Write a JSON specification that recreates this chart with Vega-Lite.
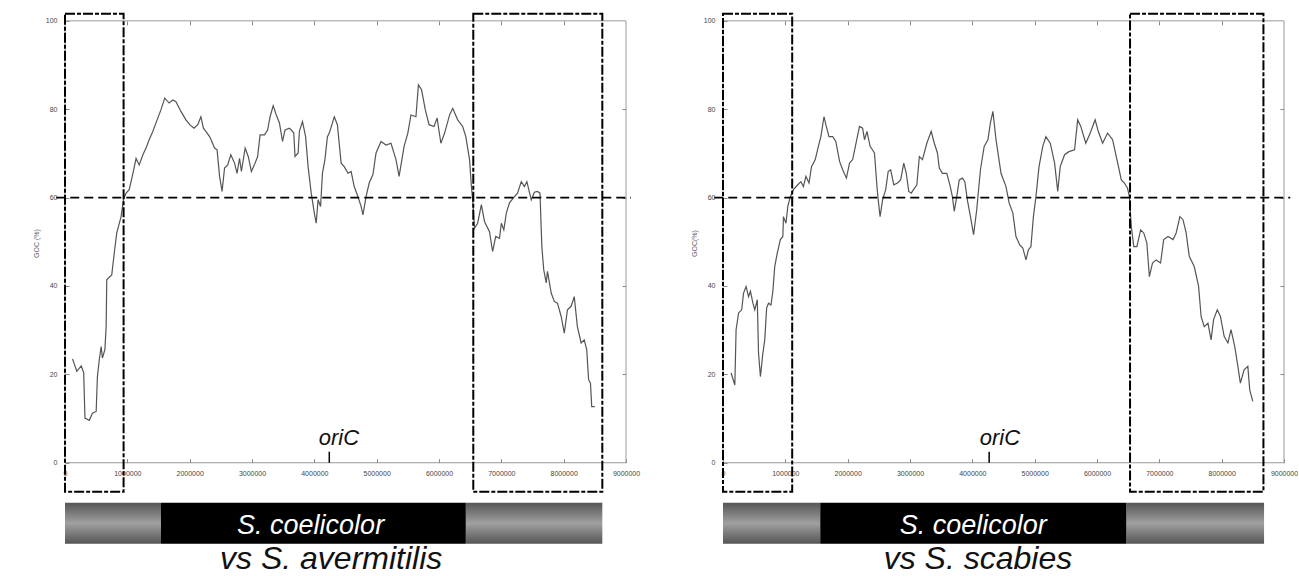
{
  "$schema": "https://vega.github.io/schema/vega-lite/v6.json",
  "background": "white",
  "padding": {"left": 32, "top": 12, "right": 0, "bottom": 0},
  "bounds": "flush",
  "spacing": 97,
  "config": {"view": {"stroke": null}, "font": "Liberation Sans", "axis": {"labelFont": "Liberation Sans", "titleFont": "Liberation Sans"}},
  "datasets": {
    "avermitilis": [{"pos":120000,"goc":23.5},{"pos":190000,"goc":20.7},{"pos":260000,"goc":21.9},{"pos":300000,"goc":20.4},{"pos":320000,"goc":10.1},{"pos":390000,"goc":9.6},{"pos":440000,"goc":11.2},{"pos":500000,"goc":11.6},{"pos":520000,"goc":19.5},{"pos":550000,"goc":23.3},{"pos":580000,"goc":26.3},{"pos":600000,"goc":23.7},{"pos":640000,"goc":25.6},{"pos":660000,"goc":30.8},{"pos":670000,"goc":41.4},{"pos":750000,"goc":42.5},{"pos":790000,"goc":47.4},{"pos":830000,"goc":52},{"pos":900000,"goc":55.7},{"pos":940000,"goc":59.7},{"pos":980000,"goc":61},{"pos":1030000,"goc":61.8},{"pos":1090000,"goc":65.5},{"pos":1140000,"goc":68.9},{"pos":1190000,"goc":67.4},{"pos":1250000,"goc":69.7},{"pos":1300000,"goc":71.2},{"pos":1350000,"goc":73.1},{"pos":1410000,"goc":75},{"pos":1460000,"goc":76.9},{"pos":1540000,"goc":79.9},{"pos":1600000,"goc":82.5},{"pos":1670000,"goc":81.4},{"pos":1730000,"goc":82.1},{"pos":1780000,"goc":81.7},{"pos":1860000,"goc":79.5},{"pos":1940000,"goc":77.6},{"pos":2000000,"goc":76.5},{"pos":2070000,"goc":75.7},{"pos":2130000,"goc":76.5},{"pos":2180000,"goc":78.3},{"pos":2220000,"goc":75.7},{"pos":2260000,"goc":75},{"pos":2320000,"goc":73.8},{"pos":2400000,"goc":71.2},{"pos":2440000,"goc":70.8},{"pos":2480000,"goc":64.8},{"pos":2520000,"goc":61.4},{"pos":2560000,"goc":66.7},{"pos":2610000,"goc":67.4},{"pos":2660000,"goc":69.7},{"pos":2720000,"goc":67.8},{"pos":2760000,"goc":65.5},{"pos":2800000,"goc":68.9},{"pos":2830000,"goc":65.9},{"pos":2890000,"goc":71.2},{"pos":2940000,"goc":69.3},{"pos":2990000,"goc":65.9},{"pos":3050000,"goc":67.8},{"pos":3090000,"goc":69.3},{"pos":3130000,"goc":74.2},{"pos":3200000,"goc":74.2},{"pos":3250000,"goc":75.3},{"pos":3290000,"goc":78.3},{"pos":3340000,"goc":80.8},{"pos":3390000,"goc":78.7},{"pos":3440000,"goc":76.9},{"pos":3490000,"goc":72.7},{"pos":3530000,"goc":75.3},{"pos":3600000,"goc":75.7},{"pos":3630000,"goc":75.3},{"pos":3670000,"goc":74.6},{"pos":3690000,"goc":69.3},{"pos":3740000,"goc":70.1},{"pos":3760000,"goc":75},{"pos":3810000,"goc":77.2},{"pos":3860000,"goc":73.8},{"pos":3900000,"goc":67},{"pos":3950000,"goc":61},{"pos":4000000,"goc":56.5},{"pos":4030000,"goc":54.2},{"pos":4060000,"goc":59.5},{"pos":4100000,"goc":58},{"pos":4130000,"goc":65.5},{"pos":4170000,"goc":68.6},{"pos":4210000,"goc":73.8},{"pos":4240000,"goc":74.6},{"pos":4320000,"goc":78.3},{"pos":4370000,"goc":76.5},{"pos":4430000,"goc":67.8},{"pos":4480000,"goc":67},{"pos":4540000,"goc":65.5},{"pos":4590000,"goc":65.9},{"pos":4640000,"goc":62.5},{"pos":4700000,"goc":60.2},{"pos":4750000,"goc":58},{"pos":4780000,"goc":56.1},{"pos":4830000,"goc":60.2},{"pos":4880000,"goc":63.3},{"pos":4940000,"goc":65.2},{"pos":4990000,"goc":70.1},{"pos":5070000,"goc":72.7},{"pos":5150000,"goc":71.9},{"pos":5230000,"goc":72.3},{"pos":5310000,"goc":68.6},{"pos":5360000,"goc":64.8},{"pos":5440000,"goc":71.6},{"pos":5500000,"goc":74.6},{"pos":5550000,"goc":78.7},{"pos":5630000,"goc":78.3},{"pos":5670000,"goc":85.5},{"pos":5720000,"goc":84.4},{"pos":5780000,"goc":79.9},{"pos":5840000,"goc":76.5},{"pos":5920000,"goc":76.1},{"pos":5970000,"goc":78},{"pos":6030000,"goc":72.3},{"pos":6090000,"goc":74.6},{"pos":6170000,"goc":78.7},{"pos":6220000,"goc":80.2},{"pos":6300000,"goc":77.6},{"pos":6380000,"goc":76.1},{"pos":6430000,"goc":73.8},{"pos":6490000,"goc":68.6},{"pos":6520000,"goc":62.5},{"pos":6540000,"goc":59.5},{"pos":6570000,"goc":53.1},{"pos":6620000,"goc":54.2},{"pos":6680000,"goc":58.4},{"pos":6730000,"goc":54.6},{"pos":6810000,"goc":52.3},{"pos":6860000,"goc":47.8},{"pos":6910000,"goc":51.2},{"pos":6970000,"goc":50.8},{"pos":7000000,"goc":54.2},{"pos":7040000,"goc":52.7},{"pos":7080000,"goc":56.5},{"pos":7130000,"goc":58.8},{"pos":7210000,"goc":60.2},{"pos":7260000,"goc":61},{"pos":7320000,"goc":63.6},{"pos":7370000,"goc":62.5},{"pos":7410000,"goc":63.6},{"pos":7480000,"goc":59.5},{"pos":7530000,"goc":61.2},{"pos":7580000,"goc":61.4},{"pos":7620000,"goc":61},{"pos":7650000,"goc":48.9},{"pos":7680000,"goc":43.7},{"pos":7720000,"goc":40.7},{"pos":7740000,"goc":43.3},{"pos":7800000,"goc":38.4},{"pos":7850000,"goc":36.5},{"pos":7900000,"goc":36.1},{"pos":7960000,"goc":33.1},{"pos":8010000,"goc":29.3},{"pos":8060000,"goc":34.6},{"pos":8120000,"goc":35.4},{"pos":8170000,"goc":37.6},{"pos":8220000,"goc":30.8},{"pos":8280000,"goc":27.1},{"pos":8330000,"goc":27.8},{"pos":8370000,"goc":25.6},{"pos":8400000,"goc":18.8},{"pos":8430000,"goc":18},{"pos":8450000,"goc":12.7},{"pos":8500000,"goc":12.7}],
    "scabies": [{"pos":130000,"goc":20.3},{"pos":190000,"goc":17.6},{"pos":210000,"goc":30.1},{"pos":250000,"goc":33.9},{"pos":300000,"goc":34.6},{"pos":330000,"goc":38.4},{"pos":370000,"goc":39.9},{"pos":410000,"goc":37.6},{"pos":440000,"goc":38.8},{"pos":480000,"goc":36.1},{"pos":510000,"goc":34.6},{"pos":550000,"goc":36.9},{"pos":570000,"goc":24.8},{"pos":600000,"goc":19.5},{"pos":640000,"goc":24.8},{"pos":670000,"goc":27.8},{"pos":700000,"goc":35},{"pos":730000,"goc":36.1},{"pos":770000,"goc":35.7},{"pos":800000,"goc":38.8},{"pos":830000,"goc":44.4},{"pos":870000,"goc":47.4},{"pos":920000,"goc":50.5},{"pos":960000,"goc":51.2},{"pos":970000,"goc":55.7},{"pos":1010000,"goc":54.2},{"pos":1040000,"goc":58},{"pos":1080000,"goc":60.2},{"pos":1130000,"goc":61.8},{"pos":1200000,"goc":62.9},{"pos":1250000,"goc":63.6},{"pos":1290000,"goc":62.5},{"pos":1330000,"goc":64.8},{"pos":1380000,"goc":63.3},{"pos":1420000,"goc":67},{"pos":1480000,"goc":68.6},{"pos":1530000,"goc":71.6},{"pos":1570000,"goc":73.8},{"pos":1620000,"goc":78.3},{"pos":1650000,"goc":76.5},{"pos":1700000,"goc":73.8},{"pos":1760000,"goc":73.8},{"pos":1810000,"goc":72.7},{"pos":1870000,"goc":68.2},{"pos":1920000,"goc":66.3},{"pos":1980000,"goc":64.4},{"pos":2030000,"goc":67.8},{"pos":2080000,"goc":68.6},{"pos":2140000,"goc":72.7},{"pos":2190000,"goc":76.1},{"pos":2240000,"goc":75.7},{"pos":2270000,"goc":73.1},{"pos":2310000,"goc":75},{"pos":2360000,"goc":71.6},{"pos":2430000,"goc":70.1},{"pos":2470000,"goc":62.5},{"pos":2490000,"goc":59.5},{"pos":2520000,"goc":55.7},{"pos":2560000,"goc":59.5},{"pos":2610000,"goc":61.8},{"pos":2650000,"goc":65.9},{"pos":2690000,"goc":66.3},{"pos":2740000,"goc":62.9},{"pos":2800000,"goc":63.3},{"pos":2850000,"goc":64},{"pos":2900000,"goc":67.8},{"pos":2940000,"goc":65.5},{"pos":2980000,"goc":61.4},{"pos":3020000,"goc":61},{"pos":3070000,"goc":62.1},{"pos":3110000,"goc":62.9},{"pos":3150000,"goc":69.3},{"pos":3200000,"goc":68.6},{"pos":3270000,"goc":72.3},{"pos":3340000,"goc":75},{"pos":3390000,"goc":72.3},{"pos":3440000,"goc":70.1},{"pos":3470000,"goc":66.7},{"pos":3520000,"goc":65.5},{"pos":3590000,"goc":65.5},{"pos":3640000,"goc":62.9},{"pos":3680000,"goc":60.2},{"pos":3710000,"goc":56.9},{"pos":3750000,"goc":60.2},{"pos":3790000,"goc":64},{"pos":3840000,"goc":64.4},{"pos":3880000,"goc":63.6},{"pos":3920000,"goc":59.5},{"pos":3970000,"goc":55.7},{"pos":4020000,"goc":51.6},{"pos":4070000,"goc":57.2},{"pos":4130000,"goc":66.3},{"pos":4190000,"goc":71.6},{"pos":4250000,"goc":73.1},{"pos":4290000,"goc":76.9},{"pos":4330000,"goc":79.5},{"pos":4380000,"goc":73.1},{"pos":4460000,"goc":65.5},{"pos":4540000,"goc":62.5},{"pos":4590000,"goc":58.8},{"pos":4650000,"goc":56.5},{"pos":4700000,"goc":51.2},{"pos":4760000,"goc":49.3},{"pos":4810000,"goc":48.6},{"pos":4860000,"goc":45.9},{"pos":4900000,"goc":48.2},{"pos":4940000,"goc":48.9},{"pos":4980000,"goc":55.7},{"pos":5020000,"goc":60.2},{"pos":5070000,"goc":67},{"pos":5130000,"goc":71.6},{"pos":5180000,"goc":73.8},{"pos":5250000,"goc":72.3},{"pos":5320000,"goc":67.8},{"pos":5370000,"goc":61.4},{"pos":5410000,"goc":67},{"pos":5480000,"goc":69.7},{"pos":5550000,"goc":70.4},{"pos":5640000,"goc":70.8},{"pos":5690000,"goc":77.6},{"pos":5740000,"goc":76.1},{"pos":5820000,"goc":72.3},{"pos":5880000,"goc":74.2},{"pos":5930000,"goc":76.1},{"pos":5970000,"goc":77.6},{"pos":6020000,"goc":75},{"pos":6090000,"goc":72.3},{"pos":6170000,"goc":74.6},{"pos":6250000,"goc":73.1},{"pos":6320000,"goc":68.6},{"pos":6390000,"goc":64},{"pos":6440000,"goc":63.3},{"pos":6490000,"goc":62.1},{"pos":6520000,"goc":60.2},{"pos":6550000,"goc":53.5},{"pos":6590000,"goc":48.9},{"pos":6640000,"goc":48.9},{"pos":6700000,"goc":52.7},{"pos":6750000,"goc":52},{"pos":6800000,"goc":49.7},{"pos":6840000,"goc":42.1},{"pos":6890000,"goc":45.2},{"pos":6950000,"goc":45.9},{"pos":7020000,"goc":45.2},{"pos":7070000,"goc":50.5},{"pos":7140000,"goc":51.2},{"pos":7220000,"goc":50.5},{"pos":7270000,"goc":52},{"pos":7330000,"goc":55.7},{"pos":7380000,"goc":55},{"pos":7430000,"goc":52},{"pos":7480000,"goc":46.7},{"pos":7560000,"goc":44.4},{"pos":7630000,"goc":39.9},{"pos":7670000,"goc":33.1},{"pos":7720000,"goc":30.8},{"pos":7780000,"goc":31.6},{"pos":7830000,"goc":27.8},{"pos":7870000,"goc":32.4},{"pos":7930000,"goc":34.6},{"pos":7980000,"goc":33.1},{"pos":8040000,"goc":28.6},{"pos":8100000,"goc":27.1},{"pos":8150000,"goc":30.1},{"pos":8210000,"goc":26.3},{"pos":8260000,"goc":21.8},{"pos":8300000,"goc":18},{"pos":8360000,"goc":21},{"pos":8420000,"goc":21.8},{"pos":8450000,"goc":16.5},{"pos":8500000,"goc":13.9}],
    "frame": [{"x0": 0, "x1": 9000000, "y0": 0, "y1": 100}],
    "boxes": [
      {"panel": "A", "x0": 0, "x1": 940000},
      {"panel": "A", "x0": 6550000, "x1": 8620000},
      {"panel": "B", "x0": 0, "x1": 1110000},
      {"panel": "B", "x0": 6530000, "x1": 8670000}
    ],
    "bars": [
      {"panel": "A", "part": "flank", "x0": 0, "x1": 1540000},
      {"panel": "A", "part": "core", "x0": 1540000, "x1": 6430000},
      {"panel": "A", "part": "flank", "x0": 6430000, "x1": 8620000},
      {"panel": "B", "part": "flank", "x0": 0, "x1": 1560000},
      {"panel": "B", "part": "core", "x0": 1560000, "x1": 6470000},
      {"panel": "B", "part": "flank", "x0": 6470000, "x1": 8680000}
    ],
    "one": [{}]
  },
  "hconcat": [
    {
      "width": 561,
      "height": 559,
      "resolve": {"axis": {"x": "independent", "y": "independent"}},
      "layer": [
        {
          "data": {"name": "frame"},
          "mark": {"type": "rect", "filled": false, "stroke": "#9a9a9a", "strokeWidth": 1},
          "encoding": {
            "x": {"field": "x0", "type": "quantitative", "scale": {"domain": [0, 9000000], "nice": false, "zero": false},
                  "axis": {"orient": "top", "offset": -8.84, "values": [1000000,2000000,3000000,4000000,5000000,6000000,7000000,8000000], "tickSize": -4, "tickColor": "#888", "labels": false, "domain": false, "grid": false, "title": null}},
            "x2": {"field": "x1"},
            "y": {"field": "y0", "type": "quantitative", "scale": {"domain": [-24.5, 102], "nice": false, "zero": false},
                  "axis": {"orient": "right", "values": [20, 40, 60, 80], "tickSize": -4, "tickColor": "#888", "labels": false, "domain": false, "grid": false, "title": null}},
            "y2": {"field": "y1"}
          }
        },
        {
          "data": {"name": "avermitilis"},
          "mark": {"type": "line", "color": "#555", "strokeWidth": 1.2},
          "encoding": {
            "x": {"field": "pos", "type": "quantitative", "scale": {"domain": [0, 9000000], "nice": false, "zero": false},
                  "axis": {"orient": "bottom", "offset": -108.3, "values": [0,1000000,2000000,3000000,4000000,5000000,6000000,7000000,8000000,9000000], "format": "d", "tickSize": -4, "tickColor": "#888", "domain": false, "grid": false, "labelFontSize": 7, "labelColor": "#444", "labelPadding": 11, "labelOverlap": false, "labelFlush": false, "title": null}},
            "y": {"field": "goc", "type": "quantitative", "scale": {"domain": [-24.5, 102], "nice": false, "zero": false},
                  "axis": {"orient": "left", "values": [0, 20, 40, 60, 80, 100], "tickSize": -4, "tickColor": "#888", "domain": false, "grid": false, "labelFontSize": 7, "labelColor": "#444", "labelPadding": 12, "title": "GOC (%)", "titleFontSize": 7, "titleFontWeight": "normal", "titleColor": "#666", "titleX": -29, "titleY": 231, "titleAngle": -90, "titleAlign": "center", "titleBaseline": "middle"}}
          }
        },
        {
          "data": {"name": "one"},
          "mark": {"type": "rule", "color": "black", "strokeWidth": 1.8, "strokeDash": [9, 5]},
          "encoding": {
            "x": {"datum": -140000, "type": "quantitative", "axis": null},
            "x2": {"datum": 9080000},
            "y": {"datum": 60, "type": "quantitative", "axis": null}
          }
        },
        {
          "data": {"name": "boxes"},
          "transform": [{"filter": "datum.panel === 'A'"}],
          "mark": {"type": "rect", "filled": false, "stroke": "black", "strokeWidth": 2, "strokeDash": [10, 2, 4, 2]},
          "encoding": {
            "x": {"field": "x0", "type": "quantitative", "axis": null},
            "x2": {"field": "x1"},
            "y": {"datum": 101.6, "type": "quantitative", "axis": null},
            "y2": {"datum": -6.56}
          }
        },
        {
          "data": {"name": "one"},
          "mark": {"type": "rule", "color": "black", "strokeWidth": 1.5},
          "encoding": {
            "x": {"datum": 4240000, "type": "quantitative", "axis": null},
            "y": {"datum": 0, "type": "quantitative", "axis": null},
            "y2": {"datum": 2.5}
          }
        },
        {
          "data": {"name": "one"},
          "mark": {"type": "text", "text": "oriC", "font": "Liberation Sans", "fontStyle": "italic", "fontSize": 22, "color": "#111", "align": "left", "baseline": "alphabetic"},
          "encoding": {
            "x": {"datum": 4070000, "type": "quantitative", "axis": null},
            "y": {"datum": 4.1, "type": "quantitative", "axis": null}
          }
        },
        {
          "data": {"name": "bars"},
          "transform": [{"filter": "datum.panel === 'A' && datum.part === 'flank'"}],
          "mark": {"type": "rect", "fill": {"gradient": "linear", "x1": 0, "y1": 0, "x2": 0, "y2": 1, "stops": [{"offset": 0, "color": "#555555"}, {"offset": 0.5, "color": "#a0a0a0"}, {"offset": 1, "color": "#555555"}]}},
          "encoding": {
            "x": {"field": "x0", "type": "quantitative", "axis": null},
            "x2": {"field": "x1"},
            "y": {"datum": -9.05, "type": "quantitative", "axis": null},
            "y2": {"datum": -18.33}
          }
        },
        {
          "data": {"name": "bars"},
          "transform": [{"filter": "datum.panel === 'A' && datum.part === 'core'"}],
          "mark": {"type": "rect", "fill": "black"},
          "encoding": {
            "x": {"field": "x0", "type": "quantitative", "axis": null},
            "x2": {"field": "x1"},
            "y": {"datum": -9.05, "type": "quantitative", "axis": null},
            "y2": {"datum": -18.33}
          }
        },
        {
          "data": {"name": "one"},
          "mark": {"type": "text", "text": "S. coelicolor", "font": "Liberation Sans", "fontStyle": "italic", "fontSize": 27, "color": "white", "align": "center", "baseline": "alphabetic"},
          "encoding": {
            "x": {"datum": 3940000, "type": "quantitative", "axis": null},
            "y": {"datum": -16.07, "type": "quantitative", "axis": null}
          }
        },
        {
          "data": {"name": "one"},
          "mark": {"type": "text", "text": "vs S. avermitilis", "font": "Liberation Sans", "fontStyle": "italic", "fontSize": 32, "color": "#111", "align": "center", "baseline": "alphabetic"},
          "encoding": {
            "x": {"datum": 4270000, "type": "quantitative", "axis": null},
            "y": {"datum": -24.1, "type": "quantitative", "axis": null}
          }
        }
      ]
    },
    {
      "width": 561,
      "height": 559,
      "resolve": {"axis": {"x": "independent", "y": "independent"}},
      "layer": [
        {
          "data": {"name": "frame"},
          "mark": {"type": "rect", "filled": false, "stroke": "#9a9a9a", "strokeWidth": 1},
          "encoding": {
            "x": {"field": "x0", "type": "quantitative", "scale": {"domain": [0, 9000000], "nice": false, "zero": false},
                  "axis": {"orient": "top", "offset": -8.84, "values": [1000000,2000000,3000000,4000000,5000000,6000000,7000000,8000000], "tickSize": -4, "tickColor": "#888", "labels": false, "domain": false, "grid": false, "title": null}},
            "x2": {"field": "x1"},
            "y": {"field": "y0", "type": "quantitative", "scale": {"domain": [-24.5, 102], "nice": false, "zero": false},
                  "axis": {"orient": "right", "values": [20, 40, 60, 80], "tickSize": -4, "tickColor": "#888", "labels": false, "domain": false, "grid": false, "title": null}},
            "y2": {"field": "y1"}
          }
        },
        {
          "data": {"name": "scabies"},
          "mark": {"type": "line", "color": "#555", "strokeWidth": 1.2},
          "encoding": {
            "x": {"field": "pos", "type": "quantitative", "scale": {"domain": [0, 9000000], "nice": false, "zero": false},
                  "axis": {"orient": "bottom", "offset": -108.3, "values": [0,1000000,2000000,3000000,4000000,5000000,6000000,7000000,8000000,9000000], "format": "d", "tickSize": -4, "tickColor": "#888", "domain": false, "grid": false, "labelFontSize": 7, "labelColor": "#444", "labelPadding": 11, "labelOverlap": false, "labelFlush": false, "title": null}},
            "y": {"field": "goc", "type": "quantitative", "scale": {"domain": [-24.5, 102], "nice": false, "zero": false},
                  "axis": {"orient": "left", "values": [0, 20, 40, 60, 80, 100], "tickSize": -4, "tickColor": "#888", "domain": false, "grid": false, "labelFontSize": 7, "labelColor": "#444", "labelPadding": 12, "title": "GOC(%)", "titleFontSize": 7, "titleFontWeight": "normal", "titleColor": "#666", "titleX": -29, "titleY": 231, "titleAngle": -90, "titleAlign": "center", "titleBaseline": "middle"}}
          }
        },
        {
          "data": {"name": "one"},
          "mark": {"type": "rule", "color": "black", "strokeWidth": 1.8, "strokeDash": [9, 5]},
          "encoding": {
            "x": {"datum": -140000, "type": "quantitative", "axis": null},
            "x2": {"datum": 9100000},
            "y": {"datum": 60, "type": "quantitative", "axis": null}
          }
        },
        {
          "data": {"name": "boxes"},
          "transform": [{"filter": "datum.panel === 'B'"}],
          "mark": {"type": "rect", "filled": false, "stroke": "black", "strokeWidth": 2, "strokeDash": [10, 2, 4, 2]},
          "encoding": {
            "x": {"field": "x0", "type": "quantitative", "axis": null},
            "x2": {"field": "x1"},
            "y": {"datum": 101.6, "type": "quantitative", "axis": null},
            "y2": {"datum": -6.56}
          }
        },
        {
          "data": {"name": "one"},
          "mark": {"type": "rule", "color": "black", "strokeWidth": 1.5},
          "encoding": {
            "x": {"datum": 4270000, "type": "quantitative", "axis": null},
            "y": {"datum": 0, "type": "quantitative", "axis": null},
            "y2": {"datum": 2.5}
          }
        },
        {
          "data": {"name": "one"},
          "mark": {"type": "text", "text": "oriC", "font": "Liberation Sans", "fontStyle": "italic", "fontSize": 22, "color": "#111", "align": "left", "baseline": "alphabetic"},
          "encoding": {
            "x": {"datum": 4120000, "type": "quantitative", "axis": null},
            "y": {"datum": 4.1, "type": "quantitative", "axis": null}
          }
        },
        {
          "data": {"name": "bars"},
          "transform": [{"filter": "datum.panel === 'B' && datum.part === 'flank'"}],
          "mark": {"type": "rect", "fill": {"gradient": "linear", "x1": 0, "y1": 0, "x2": 0, "y2": 1, "stops": [{"offset": 0, "color": "#555555"}, {"offset": 0.5, "color": "#a0a0a0"}, {"offset": 1, "color": "#555555"}]}},
          "encoding": {
            "x": {"field": "x0", "type": "quantitative", "axis": null},
            "x2": {"field": "x1"},
            "y": {"datum": -9.05, "type": "quantitative", "axis": null},
            "y2": {"datum": -18.33}
          }
        },
        {
          "data": {"name": "bars"},
          "transform": [{"filter": "datum.panel === 'B' && datum.part === 'core'"}],
          "mark": {"type": "rect", "fill": "black"},
          "encoding": {
            "x": {"field": "x0", "type": "quantitative", "axis": null},
            "x2": {"field": "x1"},
            "y": {"datum": -9.05, "type": "quantitative", "axis": null},
            "y2": {"datum": -18.33}
          }
        },
        {
          "data": {"name": "one"},
          "mark": {"type": "text", "text": "S. coelicolor", "font": "Liberation Sans", "fontStyle": "italic", "fontSize": 27, "color": "white", "align": "center", "baseline": "alphabetic"},
          "encoding": {
            "x": {"datum": 4015000, "type": "quantitative", "axis": null},
            "y": {"datum": -16.07, "type": "quantitative", "axis": null}
          }
        },
        {
          "data": {"name": "one"},
          "mark": {"type": "text", "text": "vs S. scabies", "font": "Liberation Sans", "fontStyle": "italic", "fontSize": 32, "color": "#111", "align": "center", "baseline": "alphabetic"},
          "encoding": {
            "x": {"datum": 4090000, "type": "quantitative", "axis": null},
            "y": {"datum": -24.1, "type": "quantitative", "axis": null}
          }
        }
      ]
    }
  ]
}
